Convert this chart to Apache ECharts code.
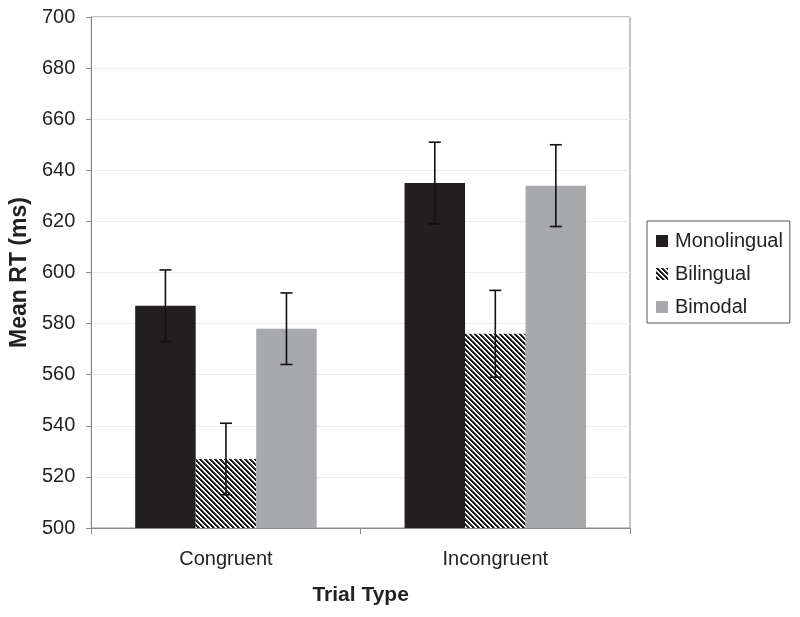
<!DOCTYPE html>
<html>
<head>
<meta charset="utf-8">
<script src="https://cdn.jsdelivr.net/npm/echarts@6/dist/echarts.min.js"></script>
<style>
html,body{margin:0;padding:0;background:#fff;}
#chart{width:800px;height:617px;}
</style>
</head>
<body>
<div id="chart"></div>
<script>
var categories = ['Congruent', 'Incongruent'];
var seriesNames = ['Monolingual', 'Bilingual', 'Bimodal'];
var monolingual = [587, 635];
var bilingual = [527, 576];
var bimodal = [578, 634];
var monolingualErr = [14, 16];
var bilingualErr = [14, 17];
var bimodalErr = [14, 16];
var yTicks = [500, 520, 540, 560, 580, 600, 620, 640, 660, 680, 700];

function makeHatch() {
  var P = 5;
  var c = document.createElement('canvas');
  c.width = P; c.height = P;
  var ctx = c.getContext('2d');
  var img = ctx.createImageData(P, P);
  for (var y = 0; y < P; y++) {
    for (var x = 0; x < P; x++) {
      var k = (((x - y) % P) + P) % P;
      var v = k < 2 ? 20 : 255;
      if (k === 2) v = 90;
      var i = (y * P + x) * 4;
      img.data[i] = v; img.data[i+1] = v; img.data[i+2] = v; img.data[i+3] = 255;
    }
  }
  ctx.putImageData(img, 0, 0);
  return c;
}
var hatch = { image: makeHatch(), repeat: 'repeat' };

var chart = echarts.init(document.getElementById('chart'), null, {renderer: 'canvas'});
var values = [monolingual, bilingual, bimodal];
var errs = [monolingualErr, bilingualErr, bimodalErr];
var colors = ['#231f20', hatch, '#a7a9ac'];

var barGapFrac = 0.326;
function errSeries(idx) {
  var data = categories.map(function (c, i) { return [i, values[idx][i], errs[idx][i]]; });
  return {
    type: 'custom',
    name: seriesNames[idx] + ' error',
    z: 10,
    silent: true,
    data: data,
    renderItem: function (params, api) {
      var ci = api.value(0);
      var v = api.value(1), e = api.value(2);
      var bandW = api.size([1, 0])[0];
      var inner = bandW * (1 - barGapFrac);
      var bw = inner / 3;
      var center = api.coord([ci, v])[0];
      var x = center - inner / 2 + bw * (idx + 0.5);
      var yTop = api.coord([ci, v + e])[1];
      var yBot = api.coord([ci, v - e])[1];
      var cap = 6;
      var style = { stroke: '#111', lineWidth: 1.6, fill: null };
      return {
        type: 'group',
        children: [
          { type: 'line', shape: { x1: x, y1: yTop, x2: x, y2: yBot }, style: style },
          { type: 'line', shape: { x1: x - cap, y1: yTop, x2: x + cap, y2: yTop }, style: style },
          { type: 'line', shape: { x1: x - cap, y1: yBot, x2: x + cap, y2: yBot }, style: style }
        ]
      };
    }
  };
}

var series = [];
for (var s = 0; s < 3; s++) {
  series.push({
    type: 'bar',
    name: seriesNames[s],
    data: values[s],
    barGap: '0%',
    barCategoryGap: (barGapFrac * 100) + '%',
    itemStyle: { color: colors[s] },
    z: 2
  });
}
for (var s2 = 0; s2 < 3; s2++) series.push(errSeries(s2));

var option = {
  backgroundColor: '#fff',
  animation: false,
  textStyle: { fontFamily: 'Liberation Sans, Arial, sans-serif' },
  grid: { left: 90, right: 170, top: 17, bottom: 89, show: true, borderColor: '#8a8a8a', borderWidth: 1 },
  legend: {
    orient: 'vertical',
    left: 647,
    top: 221,
    width: 143,
    data: seriesNames,
    itemWidth: 12,
    itemHeight: 12,
    itemGap: 13,
    icon: 'rect',
    padding: [10, 7, 6, 9],
    borderColor: '#555',
    borderWidth: 1,
    textStyle: { fontSize: 20, lineHeight: 20, color: '#222', fontFamily: 'Liberation Sans, Arial, sans-serif', padding: [0, 0, 0, 2] }
  },
  xAxis: {
    type: 'category',
    data: categories,
    name: 'Trial Type',
    nameLocation: 'middle',
    nameGap: 57,
    nameTextStyle: { fontSize: 21, fontWeight: 'bold', color: '#222' },
    axisLine: { lineStyle: { color: '#8a8a8a' } },
    axisTick: { show: true, length: 6, lineStyle: { color: '#8a8a8a' } },
    axisLabel: { fontSize: 20, color: '#222', margin: 21 },
    splitLine: { show: false }
  },
  yAxis: {
    type: 'value',
    min: 500,
    max: 700,
    interval: 20,
    name: 'Mean RT (ms)',
    nameLocation: 'middle',
    nameGap: 60,
    nameTextStyle: { fontSize: 23, fontWeight: 'bold', color: '#222' },
    axisLine: { show: true, lineStyle: { color: '#8a8a8a' } },
    axisTick: { show: true, length: 5, lineStyle: { color: '#8a8a8a' } },
    axisLabel: { fontSize: 20, color: '#222', margin: 16,
      formatter: function (v) { return yTicks.indexOf(v) >= 0 ? String(v) : ''; } },
    splitLine: { show: true, lineStyle: { color: '#ececec' } }
  },
  series: series
};
chart.setOption(option);
</script>
</body>
</html>
